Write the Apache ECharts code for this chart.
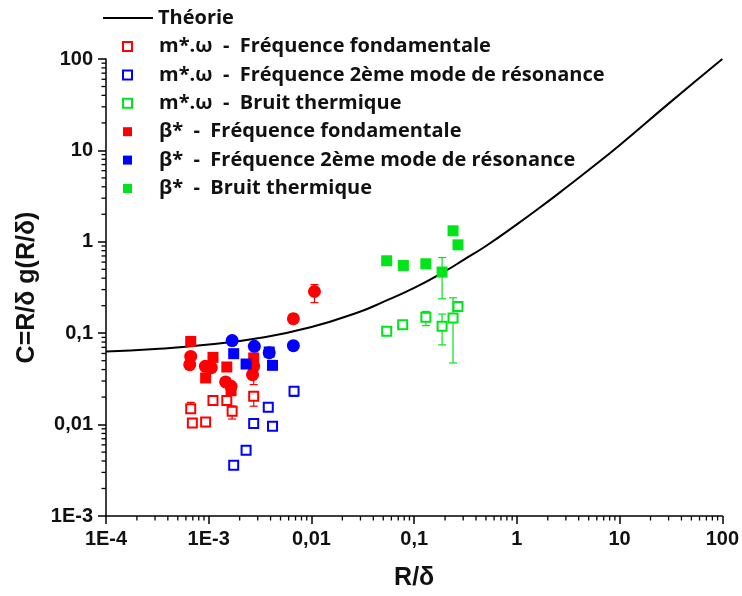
<!DOCTYPE html>
<html><head><meta charset="utf-8">
<script src="https://cdn.jsdelivr.net/npm/echarts@6/dist/echarts.min.js"></script>
<style>html,body{margin:0;padding:0;background:#fff}#c{width:742px;height:596px}</style>
</head><body><div id="c"></div>
<script>
// ---- data ----
const xTickLabels = {'-4':'1E-4','-3':'1E-3','-2':'0,01','-1':'0,1','0':'1','1':'10','2':'100'};
const yTickLabels = {'-3':'1E-3','-2':'0,01','-1':'0,1','0':'1','1':'10','2':'100'};

const theoryX = [1e-4, 3e-4, 1e-3, 3e-3, 0.01, 0.03, 0.05, 0.1, 0.2, 0.3, 0.5, 1, 2, 3, 5, 10, 30, 100];
const theoryY = [0.063, 0.067, 0.075, 0.088, 0.117, 0.173, 0.22, 0.313, 0.477, 0.63, 0.90, 1.55, 2.75, 3.9, 6.1, 11.4, 32.5, 100];

const mFondX = [6.68e-4, 6.93e-4, 9.33e-4, 1.10e-3, 1.50e-3, 1.69e-3, 2.74e-3];
const mFondY = [0.0149, 0.0104, 0.0107, 0.0183, 0.0183, 0.0140, 0.0204];

const m2X = [1.75e-3, 2.31e-3, 2.74e-3, 3.80e-3, 4.18e-3, 6.77e-3];
const m2Y = [0.00359, 0.00524, 0.0103, 0.0155, 0.0096, 0.0231];

const mBruitX = [0.054, 0.0773, 0.130, 0.187, 0.239, 0.267];
const mBruitY = [0.105, 0.124, 0.149, 0.119, 0.147, 0.196];

const bFondX = [6.68e-4, 1.10e-3, 9.33e-4, 1.50e-3, 2.74e-3, 1.65e-3];
const bFondY = [0.0813, 0.0544, 0.0324, 0.0427, 0.0536, 0.0235];
const bFondCircX = [6.68e-4, 6.53e-4, 9.27e-4, 1.06e-3, 1.46e-3, 1.65e-3, 2.74e-3, 2.67e-3, 6.67e-3, 0.0107];
const bFondCircY = [0.0557, 0.0453, 0.0434, 0.0420, 0.0293, 0.0262, 0.0434, 0.0352, 0.144, 0.286];

const b2X = [1.75e-3, 2.31e-3, 3.88e-3, 4.18e-3];
const b2Y = [0.0597, 0.046, 0.0623, 0.0445];
const b2CircX = [1.69e-3, 2.78e-3, 3.88e-3, 6.67e-3];
const b2CircY = [0.083, 0.0718, 0.0612, 0.073];

const bBruitX = [0.054, 0.0785, 0.130, 0.187, 0.239, 0.267];
const bBruitY = [0.62, 0.551, 0.575, 0.467, 1.32, 0.927];

// error bars: x, low, high
const errRedX = [0.0107, 6.67e-3, 2.74e-3, 6.68e-4, 6.93e-4, 9.33e-4, 1.69e-3, 2.74e-3];
const errRedLo = [0.216, 0.13, 0.0274, 0.0135, 0.0095, 0.0095, 0.0115, 0.0159];
const errRedHi = [0.34, 0.162, 0.045, 0.0175, 0.0115, 0.0118, 0.0160, 0.023];
const errBlueX = [6.77e-3, 1.75e-3];
const errBlueLo = [0.0204, 0.0033];
const errBlueHi = [0.025, 0.0039];
const errGreenX = [0.187, 0.0785, 0.130, 0.187, 0.239];
const errGreenLo = [0.238, 0.50, 0.121, 0.0745, 0.0472];
const errGreenHi = [0.673, 0.58, 0.173, 0.162, 0.244];

const names = {
  th: 'Théorie',
  mF: 'm*.ω  -  Fréquence fondamentale',
  m2: 'm*.ω  -  Fréquence 2ème mode de résonance',
  mB: 'm*.ω  -  Bruit thermique',
  bF: 'β*  -  Fréquence fondamentale',
  b2: 'β*  -  Fréquence 2ème mode de résonance',
  bB: 'β*  -  Bruit thermique'
};

// ---- build ----
const RED = '#ff0000', BLUE = '#0000ff', GREEN = '#00e51a';
const X_MIN = 1e-4, X_MAX = 100, Y_MIN = 1e-3, Y_MAX = 100;
const zip = (a, b) => a.map((v, i) => [v, b[i]]);
const zip3 = (a, b, c) => a.map((v, i) => [v, b[i], c[i]]);

function openSq(name, xs, ys, color) {
  return {name, type: 'scatter', data: zip(xs, ys), symbol: 'rect', symbolSize: 9,
    itemStyle: {color: '#fff', borderColor: color, borderWidth: 2, opacity: 1}, z: 4};
}
function fillSq(name, xs, ys, color) {
  return {name, type: 'scatter', data: zip(xs, ys), symbol: 'rect', symbolSize: 11,
    itemStyle: {color, opacity: 1}, z: 5};
}
function fillCirc(name, xs, ys, color) {
  return {name, type: 'scatter', data: zip(xs, ys), symbol: 'circle', symbolSize: 13,
    itemStyle: {color, opacity: 1}, z: 5};
}
function errSeries(xs, lo, hi, color) {
  return {type: 'custom', data: zip3(xs, lo, hi), z: 3, silent: true, clip: false,
    renderItem: (params, api) => {
      const p1 = api.coord([api.value(0), api.value(1)]);
      const p2 = api.coord([api.value(0), api.value(2)]);
      const st = {stroke: color, lineWidth: 1.2};
      return {type: 'group', children: [
        {type: 'line', shape: {x1: p1[0], y1: p1[1], x2: p2[0], y2: p2[1]}, style: st},
        {type: 'line', shape: {x1: p1[0] - 4, y1: p1[1], x2: p1[0] + 4, y2: p1[1]}, style: st},
        {type: 'line', shape: {x1: p2[0] - 4, y1: p2[1], x2: p2[0] + 4, y2: p2[1]}, style: st}
      ]};
    }};
}

const legendText = {fontFamily: 'Open Sans', fontWeight: 'bold', fontSize: 20, color: '#111', lineHeight: 20};
const tickFont = {fontFamily: 'Liberation Sans', fontWeight: 'bold', fontSize: 20, color: '#111'};
const nameFont = {fontFamily: 'Liberation Sans', fontWeight: 'bold', fontSize: 25, color: '#111'};

const option = {
  animation: false,
  backgroundColor: '#fff',
  grid: {left: 106, right: 16, top: 59, bottom: 79, containLabel: false},
  legend: [
    {data: [{name: names.th, icon: 'rect', itemStyle: {color: '#000'}}], orient: 'vertical',
      left: 98, top: 3, itemWidth: 50, itemHeight: 2, textStyle: legendText},
    {data: [
      {name: names.mF, icon: 'rect', itemStyle: {color: '#fff', borderColor: RED, borderWidth: 2}},
      {name: names.m2, icon: 'rect', itemStyle: {color: '#fff', borderColor: BLUE, borderWidth: 2}},
      {name: names.mB, icon: 'rect', itemStyle: {color: '#fff', borderColor: GREEN, borderWidth: 2}},
      {name: names.bF, icon: 'rect', itemStyle: {color: RED}},
      {name: names.b2, icon: 'rect', itemStyle: {color: BLUE}},
      {name: names.bB, icon: 'rect', itemStyle: {color: GREEN}}
    ], orient: 'vertical', left: 117, top: 31.5, itemWidth: 9, itemHeight: 9, itemGap: 8.4,
      textStyle: Object.assign({}, legendText, {padding: [0, 0, 0, 22]})}
  ],
  xAxis: {type: 'log', logBase: 10, min: X_MIN, max: X_MAX,
    name: 'R/δ', nameLocation: 'middle', nameGap: 50, nameTextStyle: nameFont,
    axisLine: {lineStyle: {color: '#000', width: 1.5}},
    axisTick: {inside: false, length: 8, lineStyle: {color: '#000', width: 1.5}},
    axisLabel: Object.assign({margin: 13,
      formatter: v => xTickLabels[String(Math.round(Math.log10(v)))] || ''}, tickFont),
    splitLine: {show: false}, minorTick: {show: false}},
  yAxis: {type: 'log', logBase: 10, min: Y_MIN, max: Y_MAX,
    name: 'C=R/δ g(R/δ)', nameLocation: 'middle', nameGap: 65, nameTextStyle: nameFont,
    axisLine: {lineStyle: {color: '#000', width: 1.5}},
    axisTick: {inside: false, length: 8, lineStyle: {color: '#000', width: 1.5}},
    axisLabel: Object.assign({margin: 13,
      formatter: v => yTickLabels[String(Math.round(Math.log10(v)))] || ''}, tickFont),
    splitLine: {show: false}, minorTick: {show: false}},
  series: [
    {name: names.th, type: 'line', data: zip(theoryX, theoryY), smooth: true, symbol: 'none',
      lineStyle: {color: '#000', width: 2}, itemStyle: {color: '#000'}, z: 2},
    errSeries(errRedX, errRedLo, errRedHi, RED),
    errSeries(errBlueX, errBlueLo, errBlueHi, BLUE),
    errSeries(errGreenX, errGreenLo, errGreenHi, GREEN),
    openSq(names.mF, mFondX, mFondY, RED),
    openSq(names.m2, m2X, m2Y, BLUE),
    openSq(names.mB, mBruitX, mBruitY, GREEN),
    fillSq(names.bF, bFondX, bFondY, RED),
    fillCirc('bFc', bFondCircX, bFondCircY, RED),
    fillSq(names.b2, b2X, b2Y, BLUE),
    fillCirc('b2c', b2CircX, b2CircY, BLUE),
    fillSq(names.bB, bBruitX, bBruitY, GREEN)
  ]
};
const chart = echarts.init(document.getElementById('c'), null, {renderer: 'canvas'});
chart.setOption(option);

// minor (log) ticks 2..9 in each decade, placed through the chart's own axis scales
const ticks = [];
const tickStyle = {stroke: '#000', lineWidth: 1.3};
for (let e = -4; e < 2; e++) for (let k = 2; k <= 9; k++) {
  const p = chart.convertToPixel({gridIndex: 0}, [k * Math.pow(10, e), Y_MIN]);
  ticks.push({type: 'line', shape: {x1: p[0], y1: p[1], x2: p[0], y2: p[1] + 4.5}, style: tickStyle, silent: true});
}
for (let e = -3; e < 2; e++) for (let k = 2; k <= 9; k++) {
  const p = chart.convertToPixel({gridIndex: 0}, [X_MIN, k * Math.pow(10, e)]);
  ticks.push({type: 'line', shape: {x1: p[0], y1: p[1], x2: p[0] - 4.5, y2: p[1]}, style: tickStyle, silent: true});
}
chart.setOption({graphic: ticks});
</script></body></html>
